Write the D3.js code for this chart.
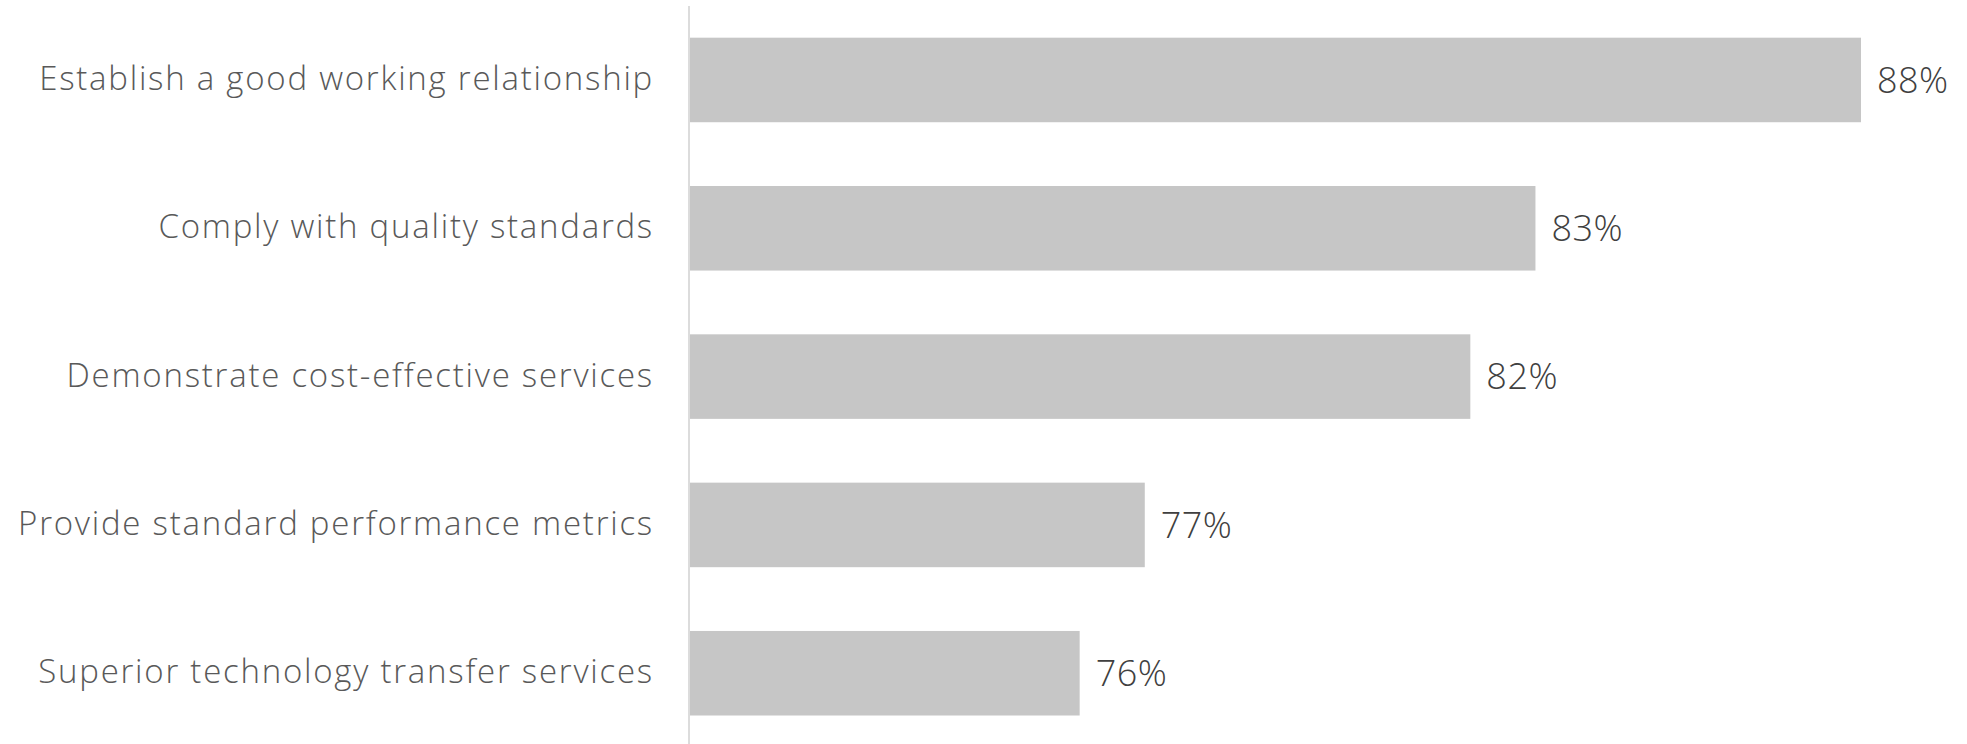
<!DOCTYPE html>
<html>
<head>
<meta charset="utf-8">
<script src="https://cdn.jsdelivr.net/npm/d3@7"></script>
<style>
  html, body { margin: 0; padding: 0; background: #ffffff; }
  svg { display: block; }
</style>
</head>
<body>
<svg id="chart" width="1967" height="744"></svg>
<script>
// Share of respondents citing each factor
const categories = [
  "Establish a good working relationship",
  "Comply with quality standards",
  "Demonstrate cost-effective services",
  "Provide standard performance metrics",
  "Superior technology transfer services"
];
const values = [88, 83, 82, 77, 76];
const valueLabels = ["88%", "83%", "82%", "77%", "76%"];

const width = 1967, height = 744;
const axisX = 689;

const svg = d3.select("#chart");

const x = d3.scaleLinear()
  .domain([70, 88])
  .range([axisX, 1861]);

const y = d3.scaleBand()
  .domain(categories)
  .range([5.8, 747.4])
  .paddingInner(0.43)
  .paddingOuter(0.215);

// bars
svg.append("g")
  .selectAll("rect")
  .data(categories)
  .join("rect")
  .attr("x", axisX + 1)
  .attr("y", d => y(d))
  .attr("width", (d, i) => x(values[i]) - axisX - 1)
  .attr("height", y.bandwidth())
  .attr("fill", "#c6c6c6");

// category axis
const yAxis = d3.axisLeft(y).tickSize(0).tickPadding(35);
const gAxis = svg.append("g")
  .attr("transform", `translate(${axisX},0)`)
  .call(yAxis);
gAxis.select(".domain").remove();
gAxis.selectAll("text")
  .attr("font-family", "'Open Sans', Lato, sans-serif")
  .attr("font-weight", 300)
  .attr("font-size", 33)
  .attr("letter-spacing", 1.75)
  .attr("fill", "#595959")
  .attr("dy", "0.3em");

svg.append("line")
  .attr("x1", axisX).attr("x2", axisX)
  .attr("y1", 6).attr("y2", height)
  .attr("stroke", "#dcdcdc")
  .attr("stroke-width", 2);

// value labels
svg.append("g")
  .selectAll("text")
  .data(categories)
  .join("text")
  .attr("x", (d, i) => x(values[i]) + 16)
  .attr("y", d => y(d) + y.bandwidth() / 2)
  .attr("dy", "0.35em")
  .attr("font-family", "'Open Sans', Lato, sans-serif")
  .attr("font-weight", 300)
  .attr("font-size", 36)
  .attr("letter-spacing", 0.5)
  .attr("fill", "#404040")
  .text((d, i) => valueLabels[i]);
</script>
</body>
</html>
